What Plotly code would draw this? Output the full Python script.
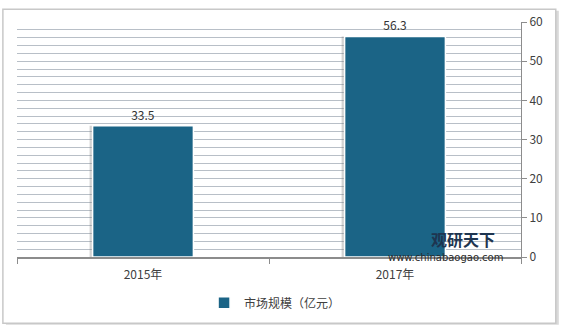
import plotly.graph_objects as go

categories = ["2015年", "2017年"]
values = [33.5, 56.3]
series_name = "市场规模（亿元）"
y_ticks = [0, 10, 20, 30, 40, 50, 60]

BAR = "#1b6486"
FONT = "Noto Sans CJK SC"

fig = go.Figure()
# soft shadow behind bars (shifted slightly left)
fig.add_trace(go.Bar(
    x=categories, y=values, width=0.40, offset=-0.212,
    marker=dict(color="rgba(110,110,110,0.30)", line=dict(width=0)),
    showlegend=False, hoverinfo="skip",
))
fig.add_trace(go.Bar(
    x=categories, y=values, name=series_name, width=0.40, offset=-0.2,
    marker=dict(color=BAR, line=dict(color="white", width=1.5)),
    text=[f"{v:.1f}" for v in values], textposition="outside",
    textfont=dict(family=FONT, size=12, color="#333333"),
    cliponaxis=False,
))

fig.update_layout(
    width=563, height=331,
    margin=dict(l=17, r=42, t=16, b=74),
    paper_bgcolor="white", plot_bgcolor="#eaf0f6",
    barmode="overlay",
    font=dict(family=FONT, size=12, color="#404040"),
    showlegend=True,
    legend=dict(
        orientation="h", x=0.512, y=-0.195, xanchor="center", yanchor="middle",
        bgcolor="white", borderwidth=0,
        font=dict(family=FONT, size=12, color="#404040"),
        itemwidth=30,
    ),
    xaxis=dict(
        type="category", showgrid=False, showline=True, linecolor="#8c8c8c",
        linewidth=1.5, ticks="outside", tickson="boundaries", ticklen=5,
        tickcolor="#8c8c8c", tickfont=dict(family=FONT, size=12, color="#404040"),
        ticklabelstandoff=6,
        range=[-0.5, 1.5],
    ),
    yaxis=dict(
        side="right", range=[0, 60], tickvals=y_ticks, showgrid=True,
        gridcolor="#b8bfc7", gridwidth=1.2, zeroline=False,
        showline=True, linecolor="#8c8c8c", linewidth=1,
        ticks="outside", ticklen=5, tickcolor="#8c8c8c",
        tickfont=dict(family=FONT, size=12, color="#404040"),
        minor=dict(dtick=2, showgrid=True, gridcolor="#b8bfc7", gridwidth=1.2),
    ),
    shapes=[
        # outer frame with shadow
        dict(type="rect", xref="paper", yref="paper", x0=-0.022, x1=1.075,
             y0=-0.288, y1=1.048, line=dict(width=0), fillcolor="#d9d9d9", layer="below"),
        dict(type="rect", xref="paper", yref="paper", x0=-0.028, x1=1.069,
             y0=-0.282, y1=1.054, line=dict(color="#c8c8c8", width=1.5),
             fillcolor="white", layer="below"),
        # legend shadow
        dict(type="rect", xref="paper", yref="paper", x0=0.385, x1=0.605,
             y0=-0.25, y1=-0.145, line=dict(width=0), fillcolor="#efefef", layer="below"),
    ],
    annotations=[
        dict(text="<b>观研天下</b>", xref="paper", yref="paper", x=0.885, y=0.078,
             showarrow=False, font=dict(family=FONT, size=16, color="#1e3550"),
             xanchor="center", yanchor="middle"),
        dict(text="www.chinabaogao.com", xref="paper", yref="paper", x=0.851, y=-0.002,
             showarrow=False, font=dict(family="DejaVu Sans", size=10, color="#2a2a2a"),
             xanchor="center", yanchor="middle"),
    ],
)

fig.write_html("out.html")
